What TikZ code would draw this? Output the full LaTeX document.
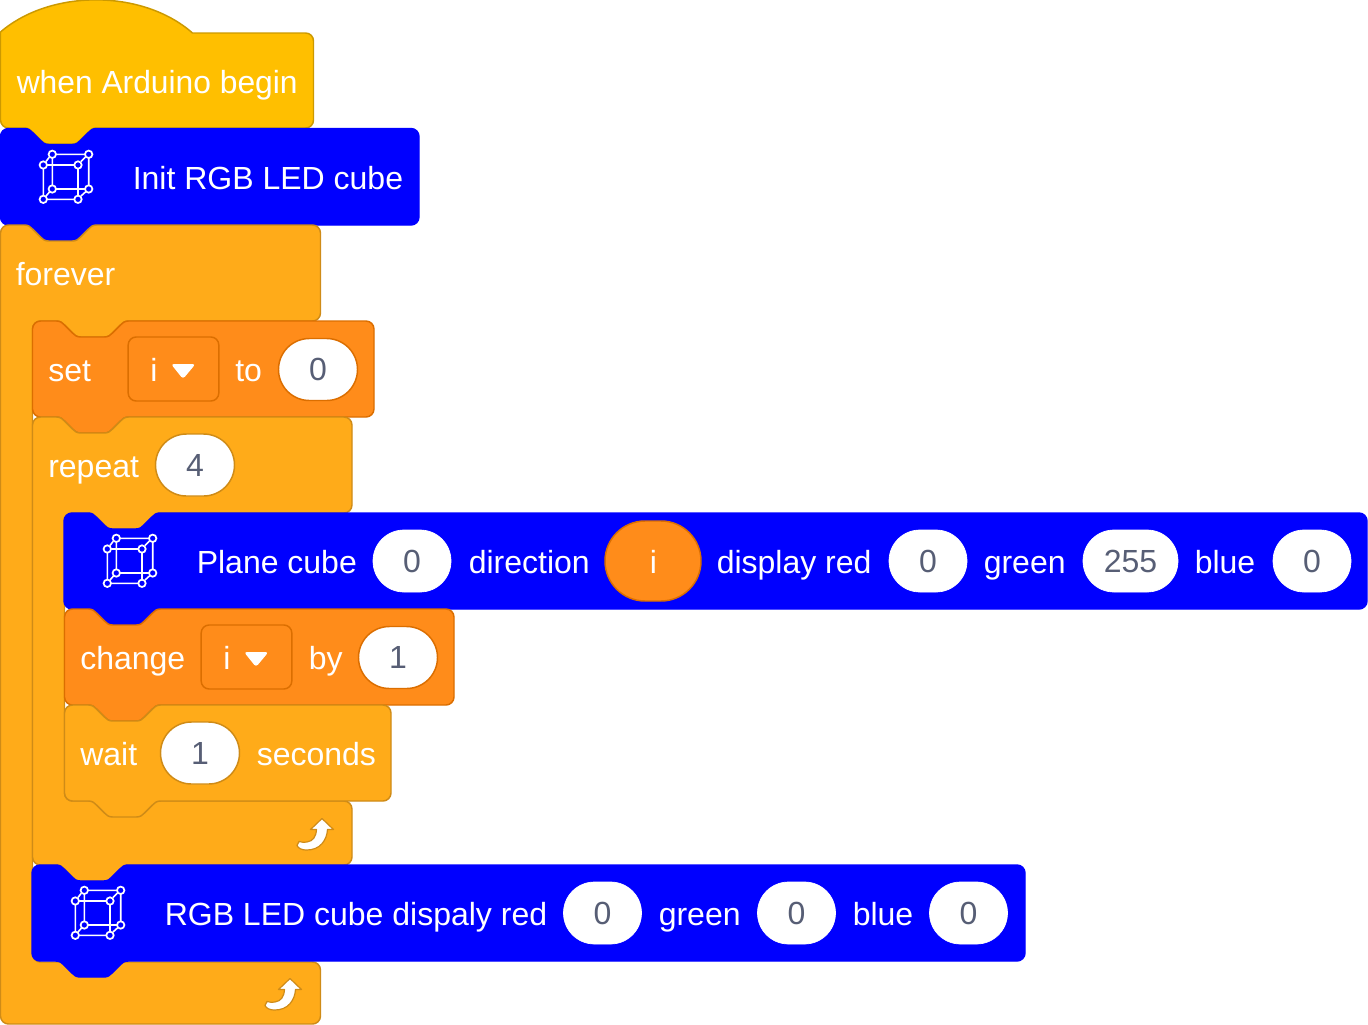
\documentclass[tikz,border=0pt]{standalone}
\usepackage{fontspec}
\setmainfont{Liberation Sans}
\definecolor{hatfill}{HTML}{FFBF00}
\definecolor{hatline}{HTML}{CC9900}
\definecolor{ctrlfill}{HTML}{FFAB19}
\definecolor{ctrlline}{HTML}{CF8B17}
\definecolor{varfill}{HTML}{FF8C1A}
\definecolor{varline}{HTML}{DB6E00}
\definecolor{cubeblue}{HTML}{0000FF}
\definecolor{valgray}{HTML}{575E75}
\tikzset{
  blockline/.style={line width=1.1pt,line join=round},
  hatblock/.style={blockline,draw=hatline,fill=hatfill},
  ctrlblock/.style={blockline,draw=ctrlline,fill=ctrlfill},
  varblock/.style={blockline,draw=varline,fill=varfill},
  cubeblock/.style={blockline,draw=cubeblue,fill=cubeblue},
  label/.style={anchor=base west,inner sep=0pt,text=white,font=\fontsize{24}{28}\selectfont},
  pill/.style={rectangle,rounded corners=23.2pt,minimum width=#1*0.75pt,minimum height=46.5pt,inner sep=0pt,
    text=valgray,font=\fontsize{24}{28}\selectfont,fill=white,text height=17pt,text depth=0pt},
  ctrlpill/.style={pill=#1,draw=ctrlline,line width=1.1pt},
  varpill/.style={pill=#1,draw=varline,line width=1.1pt},
  bluepill/.style={pill=#1,draw=white,line width=0.5pt},
  drop/.style={rectangle,rounded corners=6pt,minimum width=68pt,minimum height=48pt,draw=varline,fill=varfill,line width=1.1pt},
  droptri/.style={fill=white,rounded corners=2.2pt},
  cubeline/.style={draw=white,line width=1.2pt},
  cubedot/.style={draw=white,line width=1.3pt},
  looparrow/.style={fill=white,draw=ctrlline,line width=0.9pt,line join=round},
}
% top edge with notch, local coordinates, starts at (0,8), ends at (96,0)
\newcommand{\topnotch}{(0,8) .. controls (0,3.6) and (3.6,0) .. (8,0) -- (24,0)
  .. controls (28,0) and (30,2) .. (32,4) -- (40,12) .. controls (42,14) and (44,16) .. (48,16)
  -- (72,16) .. controls (76,16) and (78,14) .. (80,12) -- (88,4) .. controls (90,2) and (92,0) .. (96,0)}
% bottom tab running right to left; #1 x offset, #2 y
\newcommand{\bottomtab}[2]{-- (#1+96,#2) .. controls (#1+92,#2) and (#1+90,#2+2) .. (#1+88,#2+4) -- (#1+80,#2+12)
  .. controls (#1+78,#2+14) and (#1+76,#2+16) .. (#1+72,#2+16) -- (#1+48,#2+16)
  .. controls (#1+44,#2+16) and (#1+42,#2+14) .. (#1+40,#2+12) -- (#1+32,#2+4)
  .. controls (#1+30,#2+2) and (#1+28,#2) .. (#1+24,#2)}
\newcommand{\rightedge}[2]{-- (#1-8,0) .. controls (#1-3.6,0) and (#1,3.6) .. (#1,8) -- (#1,#2-8)
  .. controls (#1,#2-3.6) and (#1-3.6,#2) .. (#1-8,#2)}
\newcommand{\closeleft}[1]{-- (8,#1) .. controls (3.6,#1) and (0,#1-3.6) .. (0,#1-8) -- cycle}
% plain stack block: style, x, y, width, height
\newcommand{\stackblock}[5]{\begin{scope}[shift={(#2,#3)}]
  \path[#1] \topnotch \rightedge{#4}{#5} \bottomtab{0}{#5} \closeleft{#5};
\end{scope}}
% c block: x, y, width, head height, arm top, total height, tail tab (macro arg)
\newcommand{\cblock}[7]{\begin{scope}[shift={(#1,#2)}]
  \path[ctrlblock] \topnotch \rightedge{#3}{#4} \bottomtab{32}{#4}
   -- (40,#4) .. controls (35.6,#4) and (32,#4+3.6) .. (32,#4+8) -- (32,#5-8)
   .. controls (32,#5-3.6) and (35.6,#5) .. (40,#5) -- (#3-8,#5)
   .. controls (#3-3.6,#5) and (#3,#5+3.6) .. (#3,#5+8) -- (#3,#6-8)
   .. controls (#3,#6-3.6) and (#3-3.6,#6) .. (#3-8,#6) #7 \closeleft{#6};
\end{scope}}
\newcommand{\cubeicon}[2]{\begin{scope}[shift={(#1,#2)}]
  \draw[cubeline] (56,154.3) -- (85,154.3) (47,165) -- (74.5,165) (56,189) -- (85,189) (47,199.3) -- (74.5,199.3)
    (43.3,168.5) -- (43.3,196) (52.3,158) -- (52.3,185.5) (78,168.5) -- (78,196) (88.7,158) -- (88.7,185.5)
    (46,161.5) -- (49,157.5) (81,161.5) -- (85.5,157) (46,196) -- (49.5,192) (81,196) -- (86,191.5);
  \foreach \cx/\cy in {52.3/154.3,88.7/154.3,43.3/165,78/165,52.3/189,88.7/189,43.3/199.3,78/199.3}
    \draw[cubedot] (\cx,\cy) circle[radius=3.7];
\end{scope}}
\newcommand{\loopicon}[2]{\begin{scope}[shift={(#1,#2)}]
  \path[looparrow] (322,818.5) -- (333.5,829.5) -- (327.5,829.5) .. controls (327,840) and (320,850.5) .. (306,850)
   .. controls (302,850) and (298.5,848.5) .. (297,845.5) -- (299,841.5)
   .. controls (302,842.5) and (305,842.5) .. (307,842) .. controls (313,841) and (316,837) .. (316.5,829.5)
   -- (310.5,829.5) -- cycle;
\end{scope}}
\begin{document}
\begin{tikzpicture}[x=0.75pt,y=-0.75pt]
\useasboundingbox (0,0) rectangle (1368,1025);
% hat
\begin{scope}[shift={(0.5,0)}]
\path[hatblock] (0,32) .. controls (50,-11) and (142,-11) .. (192,33) -- (305,33)
  .. controls (309.5,33) and (313,36.5) .. (313,41) -- (313,120) .. controls (313,124.5) and (309.5,128) .. (305,128)
  \bottomtab{0}{128} \closeleft{128};
\end{scope}
\node[label,xscale=0.993] (t1) at (16.5,93) {when Arduino begin};
% init
\stackblock{cubeblock}{0.5}{128.5}{418.5}{96.5}
\cubeicon{0}{0}
\node[label] (t2) at (132.5,189) {Init RGB LED cube};
% forever
\cblock{0.5}{225}{320}{96}{737}{799}{}
\node[label] (t3) at (15.5,285) {forever};
\loopicon{-32}{160}
% set
\stackblock{varblock}{32.5}{321}{341.5}{96}
\node[label] (t4) at (48,381) {set};
\node[drop] (d1) at (173.5,369) {};
\node[label] (t5) at (150,381) {i};
\path[droptri] (171,364) -- (195.5,364) -- (183,379) -- cycle;
\node[label] (t6) at (235,381) {to};
\node[varpill=79] (v1) at (318,369.5) {0};
% repeat
\cblock{32.5}{417}{319.5}{96}{384}{448}{\bottomtab{0}{448}}
\node[label] (t7) at (48,477) {repeat};
\node[ctrlpill=79] (v2) at (195,465) {4};
\loopicon{0}{0}
% plane
\stackblock{cubeblock}{64}{513}{1303}{96}
\cubeicon{64}{384}
\node[label] (t8) at (196.5,573) {Plane cube};
\node[bluepill=78] (v3) at (412,561) {0};
\node[label] (t9) at (468.5,573) {direction};
\node[rectangle,rounded corners=30pt,minimum width=72pt,minimum height=60pt,draw=varline,fill=varfill,line width=1.1pt] (v4) at (653,561) {};
\node[label] (t10) at (649.5,573) {i};
\node[label] (t11) at (716.5,573) {display red};
\node[bluepill=78] (v5) at (928,561) {0};
\node[label] (t12) at (983.5,573) {green};
\node[bluepill=95] (v6) at (1130.5,561) {255};
\node[label] (t13) at (1194.5,573) {blue};
\node[bluepill=78] (v7) at (1312,561) {0};
% change
\stackblock{varblock}{64.5}{609}{389.5}{96}
\node[label] (t14) at (80,669) {change};
\node[drop] (d2) at (246.5,657) {};
\node[label] (t15) at (223,669) {i};
\path[droptri] (244,652) -- (268.5,652) -- (256,667) -- cycle;
\node[label] (t16) at (308.5,669) {by};
\node[varpill=79] (v8) at (398,657.5) {1};
% wait
\stackblock{ctrlblock}{64.5}{705}{326.5}{96}
\node[label] (t17) at (80,765) {wait};
\node[ctrlpill=79] (v9) at (200,753) {1};
\node[label] (t18) at (256.5,765) {seconds};
% rgb
\stackblock{cubeblock}{32}{865}{993}{96}
\cubeicon{32}{736}
\node[label] (t19) at (164.5,925) {RGB LED cube dispaly red};
\node[bluepill=78] (v10) at (602.5,913) {0};
\node[label] (t20) at (658.5,925) {green};
\node[bluepill=78] (v11) at (796.5,913) {0};
\node[label] (t21) at (852.5,925) {blue};
\node[bluepill=78] (v12) at (968.5,913) {0};
\end{tikzpicture}
\end{document}
